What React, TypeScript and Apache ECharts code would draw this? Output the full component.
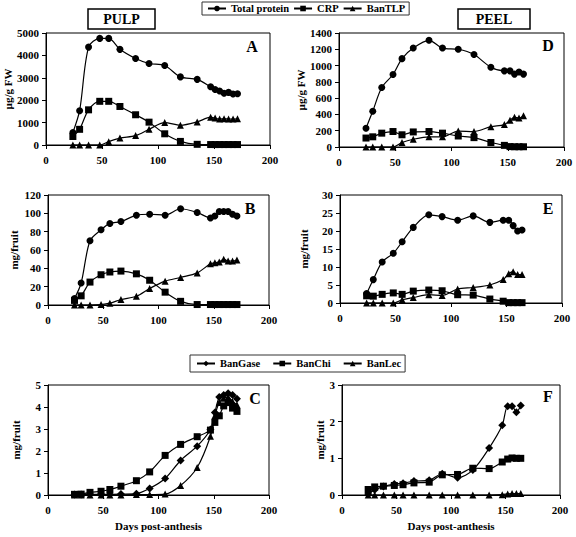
import React, { useEffect, useRef } from "react";
import * as echarts from "echarts";

// ---- data ----
const pulpDays = [24, 30, 38, 48, 56, 66, 80, 92, 106, 120, 135, 147, 151, 155, 159, 163, 167, 171];
const peelDays = [24, 30, 38, 48, 56, 66, 80, 92, 106, 120, 135, 147, 152, 156, 160, 164];

// Panel A: pulp, µg/g FW
const aTotal = [560, 1530, 4370, 4760, 4760, 4270, 3860, 3640, 3550, 3040, 2930, 2600, 2480, 2410, 2310, 2350, 2280, 2290];
const aCRP = [380, 700, 1570, 1950, 1950, 1720, 1350, 1020, 500, 160, 30, 20, 20, 20, 20, 20, 20, 20];
const aTLP = [0, 0, 0, 0, 150, 310, 420, 700, 1000, 880, 1030, 1240, 1200, 1160, 1170, 1160, 1160, 1170];

// Panel B: pulp, mg/fruit
const bTotal = [7, 24, 70, 82, 89, 91, 98, 99, 98, 105, 101, 95, 97, 102, 102, 102, 99, 97];
const bCRP = [5, 10, 25, 33, 36, 37, 34, 27, 14, 4, 0.5, 0.5, 0.5, 0.5, 0.5, 0.5, 0.5, 0.5];
const bTLP = [0, 0, 0, 0.5, 2, 6, 9.5, 18, 26, 30, 35, 45, 46, 47, 50, 48, 48, 49];

// Panel C: pulp, mg/fruit
const cGase = [0.02, 0.02, 0.03, 0.03, 0.03, 0.04, 0.06, 0.3, 0.75, 1.57, 2.22, 2.98, 3.75, 4.45, 4.55, 4.62, 4.55, 4.38];
const cChi = [0.03, 0.04, 0.12, 0.17, 0.25, 0.4, 0.65, 1.05, 1.8, 2.3, 2.65, 2.95, 3.3, 3.6, 4.05, 4.2, 3.95, 3.8];
const cLec = [0, 0, 0, 0, 0, 0, 0.02, 0.02, 0.04, 0.43, 1.25, 2.67, 3.6, 4.2, 4.4, 4.45, 4.25, 4.1];

// Panel D: peel, µg/g FW
const dTotal = [230, 440, 730, 890, 1085, 1215, 1310, 1215, 1200, 1135, 980, 935, 935, 895, 920, 895];
const dCRP = [110, 125, 170, 190, 150, 185, 190, 170, 135, 115, 55, 20, 5, 3, 3, 3];
const dTLP = [0, 0, 0, 0, 55, 95, 125, 125, 195, 190, 250, 275, 330, 365, 355, 385];

// Panel E: peel, mg/fruit
const eTotal = [2.6, 6.5, 11.4, 13.8, 17, 21, 24.5, 24, 23, 24.2, 22.4, 23, 23, 21.5, 20, 20.3];
const eCRP = [2, 1.9, 2.4, 2.8, 2.4, 3.3, 3.6, 3.4, 2.3, 2.2, 1.1, 0.5, 0.1, 0.1, 0.1, 0.1];
const eTLP = [0, 0, 0, 0, 0.9, 1.5, 2.3, 2.1, 3.9, 4.3, 5.0, 6.5, 8.1, 8.7, 7.9, 7.9];

// Panel F: peel, mg/fruit
const fGase = [0.03, 0.14, 0.23, 0.3, 0.32, 0.38, 0.4, 0.58, 0.47, 0.68, 1.28, 1.9, 2.42, 2.42, 2.26, 2.44];
const fChi = [0.15, 0.22, 0.24, 0.26, 0.28, 0.33, 0.35, 0.55, 0.56, 0.73, 0.72, 0.9, 0.98, 1.01, 1.0, 1.0];
const fLec = [0, 0, 0, 0, 0, 0, 0, 0, 0, 0, 0, 0.01, 0.03, 0.04, 0.04, 0.04];

const xTicks = { min: 0, max: 200, interval: 50 };
const panelLetters = ["A", "B", "C", "D", "E", "F"];

const serif = '"Liberation Serif", "Times New Roman", serif';

export default function App() {
  const ref = useRef<HTMLDivElement>(null);
  useEffect(() => {
    document.body.style.margin = "0";
    const chart = echarts.init(ref.current!, null, { renderer: "svg" });

    const grids = [
      { left: 46, top: 33, width: 224, height: 112 },
      { left: 48, top: 195, width: 221, height: 110 },
      { left: 48, top: 385, width: 221, height: 110 },
      { left: 339, top: 33, width: 225, height: 114 },
      { left: 340, top: 195, width: 222, height: 108 },
      { left: 342, top: 385, width: 218, height: 110 },
    ];
    const yCfg = [
      { max: 5000, interval: 1000, name: "µg/g FW", gap: 27 },
      { max: 120, interval: 20, name: "mg/fruit", gap: 29 },
      { max: 5, interval: 1, name: "mg/fruit", gap: 27 },
      { max: 1400, interval: 200, name: "µg/g FW", gap: 28 },
      { max: 30, interval: 5, name: "mg/fruit", gap: 31 },
      { max: 3, interval: 1, name: "mg/fruit", gap: 14 },
    ];
    const lbl = { fontFamily: serif, fontWeight: "bold" as const, fontSize: 11, color: "#000" };
    const plain = (v: number) => String(v);

    const xAxis = grids.map((_, i) => ({
      type: "value",
      gridIndex: i,
      ...xTicks,
      axisLine: { show: true, onZero: false, lineStyle: { color: "#000", width: 1 } },
      axisTick: { show: true, length: 4, lineStyle: { color: "#000" } },
      axisLabel: { ...lbl, margin: 9, formatter: plain },
      splitLine: { show: false },
      ...(i === 2 || i === 5
        ? { name: "Days post-anthesis", nameLocation: "middle", nameGap: 25, nameTextStyle: { ...lbl } }
        : {}),
    }));
    const yAxis = yCfg.map((c, i) => ({
      type: "value",
      gridIndex: i,
      min: 0,
      max: c.max,
      interval: c.interval,
      name: c.name,
      nameLocation: "middle",
      nameGap: c.gap,
      nameTextStyle: { ...lbl },
      axisLine: { show: true, lineStyle: { color: "#000", width: 1 } },
      axisTick: { show: true, length: 4, lineStyle: { color: "#000" } },
      axisLabel: { ...lbl, margin: 7, formatter: plain },
      splitLine: { show: false },
    }));

    const mk = (name: string, days: number[], vals: number[], gi: number, symbol: string, size = 7) => ({
      type: "line",
      name,
      xAxisIndex: gi,
      yAxisIndex: gi,
      data: days.map((d, k) => [d, vals[k]]),
      symbol,
      symbolSize: size,
      smooth: 0.3,
      lineStyle: { color: "#000", width: 1.2 },
      itemStyle: { color: "#000" },
      emphasis: { disabled: true },
    });

    const series = [
      mk("Total protein", pulpDays, aTotal, 0, "circle"),
      mk("CRP", pulpDays, aCRP, 0, "rect"),
      mk("BanTLP", pulpDays, aTLP, 0, "triangle"),
      mk("Total protein", pulpDays, bTotal, 1, "circle"),
      mk("CRP", pulpDays, bCRP, 1, "rect"),
      mk("BanTLP", pulpDays, bTLP, 1, "triangle"),
      mk("BanGase", pulpDays, cGase, 2, "diamond", 8),
      mk("BanChi", pulpDays, cChi, 2, "rect"),
      mk("BanLec", pulpDays, cLec, 2, "triangle"),
      mk("Total protein", peelDays, dTotal, 3, "circle"),
      mk("CRP", peelDays, dCRP, 3, "rect"),
      mk("BanTLP", peelDays, dTLP, 3, "triangle"),
      mk("Total protein", peelDays, eTotal, 4, "circle"),
      mk("CRP", peelDays, eCRP, 4, "rect"),
      mk("BanTLP", peelDays, eTLP, 4, "triangle"),
      mk("BanGase", peelDays, fGase, 5, "diamond", 8),
      mk("BanChi", peelDays, fChi, 5, "rect"),
      mk("BanLec", peelDays, fLec, 5, "triangle"),
    ];

    const letterPos = [
      [252, 46],
      [250, 208],
      [255, 398],
      [548, 45],
      [548, 208],
      [548, 396],
    ];
    const graphic: any[] = [
      { type: "rect", shape: { x: 88, y: 9, width: 67, height: 20 }, style: { fill: "#fff", stroke: "#000", lineWidth: 1.5 } },
      { type: "text", x: 121.5, y: 19.5, style: { text: "PULP", fontFamily: serif, fontWeight: "bold", fontSize: 14, fill: "#000", textAlign: "center", textVerticalAlign: "middle" } },
      { type: "rect", shape: { x: 458, y: 9, width: 72, height: 20 }, style: { fill: "#fff", stroke: "#000", lineWidth: 1.5 } },
      { type: "text", x: 494, y: 19.5, style: { text: "PEEL", fontFamily: serif, fontWeight: "bold", fontSize: 14, fill: "#000", textAlign: "center", textVerticalAlign: "middle" } },
      ...panelLetters.map((t, i) => ({
        type: "text",
        x: letterPos[i][0],
        y: letterPos[i][1],
        style: { text: t, fontFamily: serif, fontWeight: "bold", fontSize: 16, fill: "#000", textAlign: "center", textVerticalAlign: "middle" },
      })),
    ];

    const legendBase = {
      orient: "horizontal",
      borderColor: "#333",
      borderWidth: 1,
      itemWidth: 18,
      itemHeight: 7,
      itemGap: 4,
      selectedMode: false,
      textStyle: { fontFamily: serif, fontWeight: "bold", fontSize: 10.5, color: "#000" },
    };

    chart.setOption({
      animation: false,
      backgroundColor: "#fff",
      grid: grids.map((g) => ({ ...g, show: true, borderColor: "#000", borderWidth: 1, backgroundColor: "transparent" })),
      xAxis,
      yAxis,
      series,
      legend: [
        { ...legendBase, data: ["Total protein", "CRP", "BanTLP"], left: 202, top: 2, padding: [1, 4, 1, 5] },
        { ...legendBase, data: ["BanGase", "BanChi", "BanLec"], left: 190, top: 355, padding: [3, 4, 3, 6], itemGap: 12 },
      ],
      graphic,
    });
    return () => chart.dispose();
  }, []);
  return <div ref={ref} style={{ width: 576, height: 537 }} />;
}
